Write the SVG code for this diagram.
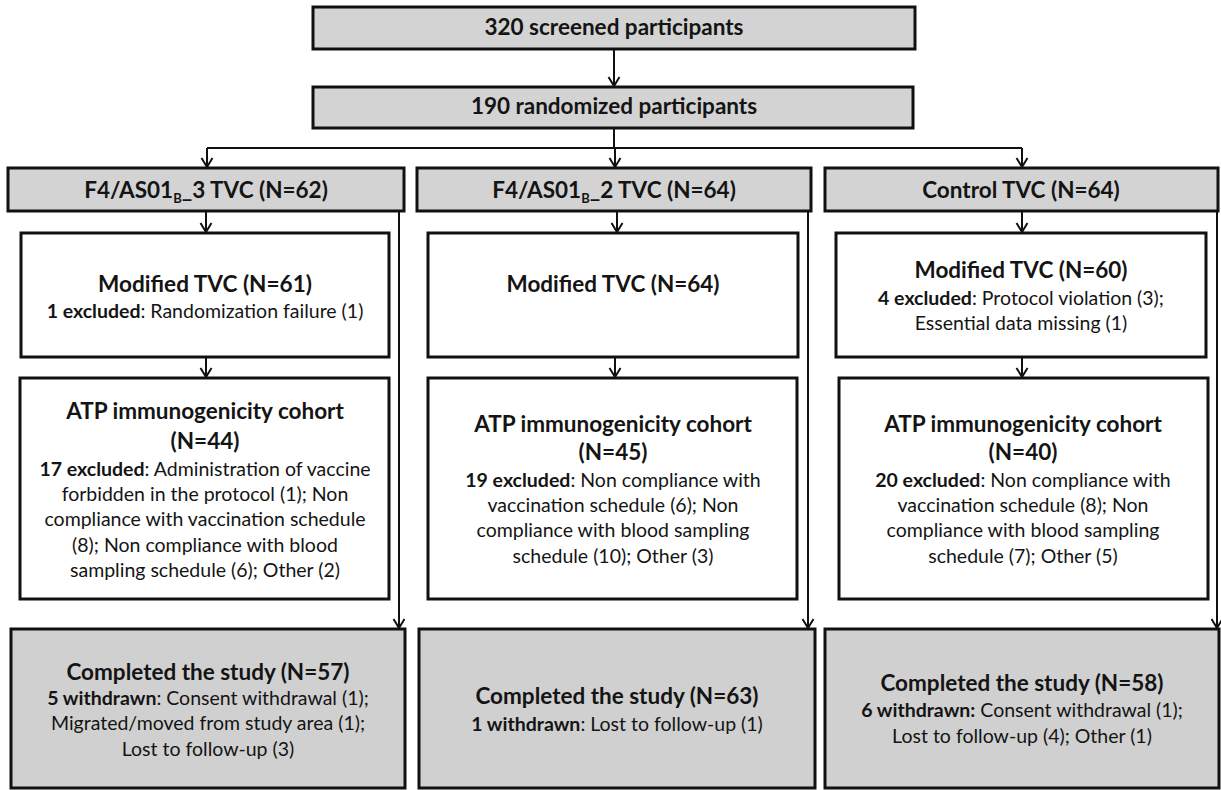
<svg xmlns="http://www.w3.org/2000/svg" width="1221" height="790" viewBox="0 0 1221 790">
<style>
.gbox{fill:#d3d3d3;stroke:#111;stroke-width:3}
.wbox{fill:#fff;stroke:#111;stroke-width:3}
.cbox{fill:#d0d0d0;stroke:#111;stroke-width:3}
text{font-family:Lato,"Liberation Sans",sans-serif;fill:#141414;text-anchor:middle}
.t{font-size:22.5px;font-weight:bold}
.b{font-size:19.5px}
.bb{font-weight:bold}
.conn{fill:none;stroke:#111;stroke-width:2;marker-end:url(#arr)}
.line{fill:none;stroke:#111;stroke-width:2}
</style>
<defs>
<marker id="arr" viewBox="0 0 12 14" refX="11" refY="7" markerWidth="12" markerHeight="14" markerUnits="userSpaceOnUse" orient="auto">
<path d="M2,1.5 L11,7 L2,12.5" fill="none" stroke="#111" stroke-width="2"/>
</marker>
</defs>
<rect width="1221" height="790" fill="#fff"/>
<g id="connectors">
<path class="conn" d="M614,49 V86"/>
<path class="line" d="M614,128 V148 M207,148 H1022"/>
<path class="conn" d="M207,148 V167"/>
<path class="conn" d="M615,148 V167"/>
<path class="conn" d="M1022,148 V167"/>
<path class="conn" d="M206,211 V232"/>
<path class="conn" d="M617,211 V232"/>
<path class="conn" d="M1022,211 V232"/>
<path class="conn" d="M206,357 V377"/>
<path class="conn" d="M615,357 V377"/>
<path class="conn" d="M1022,357 V377"/>
<path class="conn" d="M399,211 V628"/>
<path class="conn" d="M808,211 V628"/>
<path class="conn" d="M1217,211 V628"/>
</g>
<g id="screened">
<rect class="gbox" x="313" y="7" width="602" height="42"/>
<text class="t" x="614" y="35">320 screened participants</text>
</g>
<g id="randomized">
<rect class="gbox" x="313" y="87" width="600" height="41"/>
<text class="t" x="614" y="114">190 randomized participants</text>
</g>
<g id="arm1">
<rect class="gbox" x="8" y="168" width="396" height="43"/>
<text class="t" x="206" y="198">F4/AS01<tspan font-size="13" dy="5">B</tspan><tspan dy="-5">_3 TVC (N=62)</tspan></text>
</g>
<g id="arm2">
<rect class="gbox" x="417" y="168" width="394" height="43"/>
<text class="t" x="614" y="198">F4/AS01<tspan font-size="13" dy="5">B</tspan><tspan dy="-5">_2 TVC (N=64)</tspan></text>
</g>
<g id="arm3">
<rect class="gbox" x="825" y="168" width="393" height="43"/>
<text class="t" x="1021" y="198">Control TVC (N=64)</text>
</g>
<g id="mod1">
<rect class="wbox" x="21" y="233" width="368" height="124"/>
<text class="t" x="205" y="292" textLength="214" lengthAdjust="spacingAndGlyphs">Modified TVC (N=61)</text>
<text class="b" x="205" y="318"><tspan class="bb">1 excluded</tspan>: Randomization failure (1)</text>
</g>
<g id="mod2">
<rect class="wbox" x="428" y="233" width="370" height="124"/>
<text class="t" x="613" y="292" textLength="213" lengthAdjust="spacingAndGlyphs">Modified TVC (N=64)</text>
</g>
<g id="mod3">
<rect class="wbox" x="836" y="233" width="370" height="124"/>
<text class="t" x="1021" y="278" textLength="213" lengthAdjust="spacingAndGlyphs">Modified TVC (N=60)</text>
<text class="b" x="1021" y="305"><tspan class="bb">4 excluded</tspan>: Protocol violation (3);</text>
<text class="b" x="1021" y="330">Essential data missing (1)</text>
</g>
<g id="atp1">
<rect class="wbox" x="20" y="378" width="369" height="221"/>
<text class="t" x="205" y="419">ATP immunogenicity cohort</text>
<text class="t" x="205" y="449">(N=44)</text>
<text class="b" x="205" y="476"><tspan class="bb">17 excluded</tspan>: Administration of vaccine</text>
<text class="b" x="205" y="501">forbidden in the protocol (1); Non</text>
<text class="b" x="205" y="526">compliance with vaccination schedule</text>
<text class="b" x="205" y="552">(8); Non compliance with blood</text>
<text class="b" x="205" y="577">sampling schedule (6); Other (2)</text>
</g>
<g id="atp2">
<rect class="wbox" x="428" y="378" width="369" height="221"/>
<text class="t" x="613" y="432">ATP immunogenicity cohort</text>
<text class="t" x="613" y="460">(N=45)</text>
<text class="b" x="613" y="487"><tspan class="bb">19 excluded</tspan>: Non compliance with</text>
<text class="b" x="613" y="512">vaccination schedule (6); Non</text>
<text class="b" x="613" y="537">compliance with blood sampling</text>
<text class="b" x="613" y="563">schedule (10); Other (3)</text>
</g>
<g id="atp3">
<rect class="wbox" x="839" y="378" width="369" height="221"/>
<text class="t" x="1023" y="432">ATP immunogenicity cohort</text>
<text class="t" x="1023" y="460">(N=40)</text>
<text class="b" x="1023" y="487"><tspan class="bb">20 excluded</tspan>: Non compliance with</text>
<text class="b" x="1023" y="512">vaccination schedule (8); Non</text>
<text class="b" x="1023" y="537">compliance with blood sampling</text>
<text class="b" x="1023" y="563">schedule (7); Other (5)</text>
</g>
<g id="comp1">
<rect class="cbox" x="11" y="629" width="394" height="159"/>
<text class="t" x="208" y="680">Completed the study (N=57)</text>
<text class="b" x="208" y="705"><tspan class="bb">5 withdrawn</tspan>: Consent withdrawal (1);</text>
<text class="b" x="208" y="730">Migrated/moved from study area (1);</text>
<text class="b" x="208" y="756">Lost to follow-up (3)</text>
</g>
<g id="comp2">
<rect class="cbox" x="419" y="629" width="396" height="159"/>
<text class="t" x="617" y="704">Completed the study (N=63)</text>
<text class="b" x="617" y="731"><tspan class="bb">1 withdrawn</tspan>: Lost to follow-up (1)</text>
</g>
<g id="comp3">
<rect class="cbox" x="825" y="629" width="394" height="159"/>
<text class="t" x="1022" y="691">Completed the study (N=58)</text>
<text class="b" x="1022" y="717"><tspan class="bb">6 withdrawn:</tspan> Consent withdrawal (1);</text>
<text class="b" x="1022" y="743">Lost to follow-up (4); Other (1)</text>
</g>
</svg>
